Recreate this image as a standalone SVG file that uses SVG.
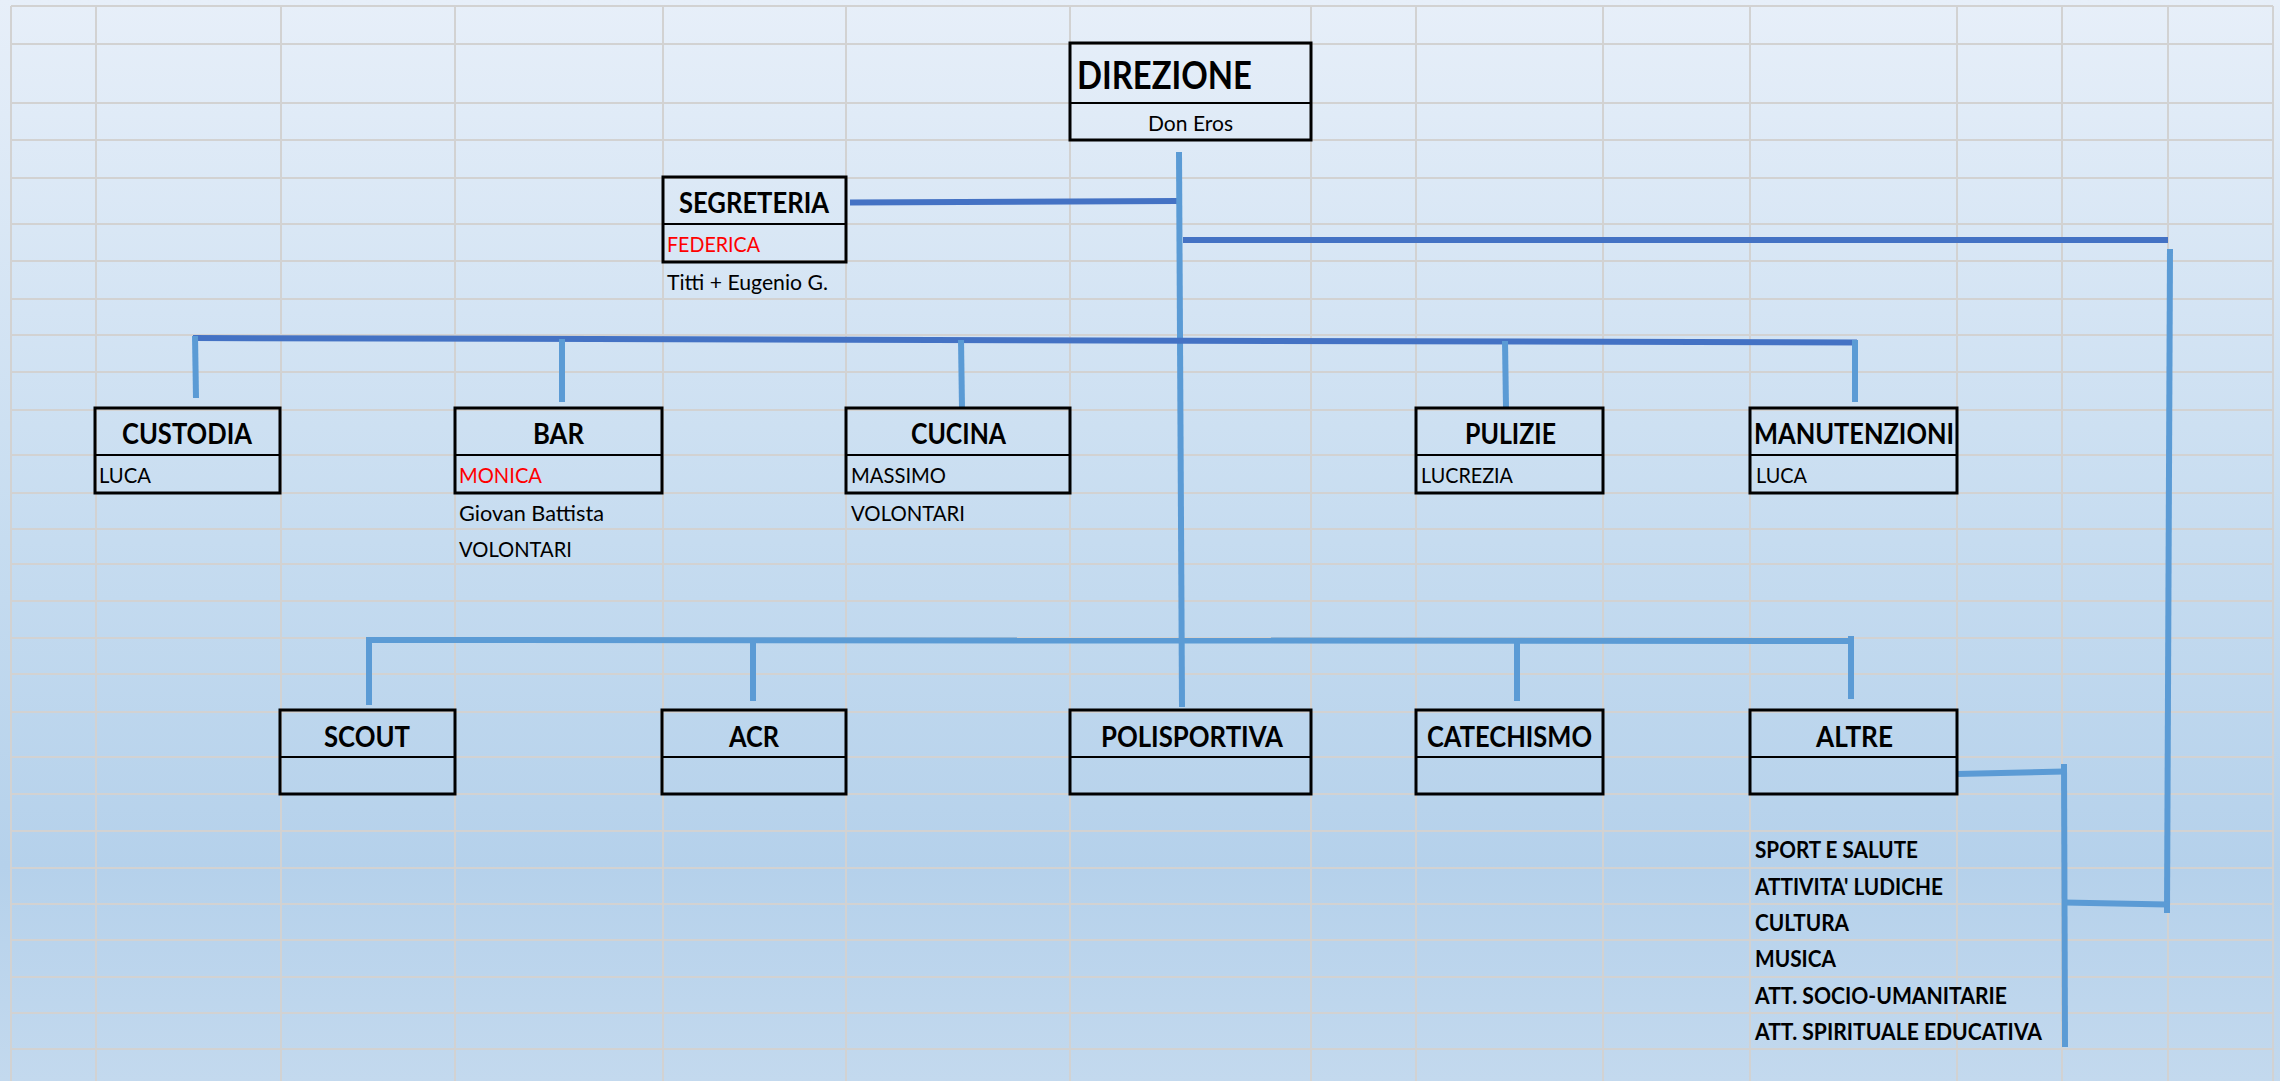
<svg xmlns="http://www.w3.org/2000/svg" width="2280" height="1081" viewBox="0 0 2280 1081">
<defs>
<linearGradient id="bg" x1="0" y1="0" x2="0" y2="1">
<stop offset="0" stop-color="#E7EFF9"/>
<stop offset="0.5" stop-color="#C6DCF0"/>
<stop offset="0.8" stop-color="#B5D1EB"/>
<stop offset="1" stop-color="#C3D9EE"/>
</linearGradient>
<style>
.grid{stroke:#D2D2D2;stroke-width:2;fill:none}
.box{fill:none;stroke:#000;stroke-width:3}
.div{stroke:#000;stroke-width:2}
.t{font-family:Lato,"Open Sans","Liberation Sans",sans-serif;fill:#000}
.h{font-weight:bold;font-size:29px}
.n{font-size:22px}
.red{fill:#FF0000}
.b{font-weight:bold;font-size:22px}
.lt{stroke:#5B9BD5;stroke-width:6;fill:none}
.dk{stroke:#4472C4;stroke-width:6;fill:none}
</style>
</defs>
<rect x="0" y="0" width="2280" height="1081" fill="url(#bg)"/>
<g id="grid" class="grid">
<path d="M11 6V1081M96 6V1081M281 6V1081M455 6V1081M663 6V1081M846 6V1081M1070 6V1081M1311 6V1081M1416 6V1081M1603 6V1081M1750 6V1081M1957 6V1081M2062 6V1081M2168 6V1081M2273 6V1081"/>
<path d="M11 6H2273M11 44H2273M11 103H2273M11 140H2273M11 178H2273M11 224H2273M11 261H2273M11 299H2273M11 335H2273M11 372H2273M11 410H2273M11 455H2273M11 493H2273M11 529H2273M11 564H2273M11 601H2273M11 638H2273M11 674H2273M11 712H2273M11 757H2273M11 794H2273M11 831H2273M11 868H2273M11 904H2273M11 940H2273M11 977H2273M11 1013H2273M11 1049H2273"/>
</g>
<g id="connectors">
<line class="dk" x1="850" y1="202.5" x2="1178" y2="201" stroke-width="5.5"/>
<line class="lt" x1="1179" y1="152" x2="1182" y2="707"/>
<line class="dk" x1="1183" y1="240" x2="2168" y2="240" stroke-width="7"/>
<line class="lt" x1="2170" y1="249" x2="2167" y2="913"/>
<line class="lt" x1="2064" y1="902.5" x2="2167" y2="904.5"/>
<line class="lt" x1="2064" y1="764" x2="2065" y2="1047"/>
<line class="lt" x1="1957" y1="774" x2="2064" y2="771.5" stroke-width="7"/>
<line class="dk" x1="193" y1="338" x2="1857" y2="342.5" stroke-width="5"/>
<line class="lt" x1="195" y1="336" x2="196" y2="398"/>
<line class="lt" x1="562" y1="339" x2="562" y2="402"/>
<line class="lt" x1="961" y1="340" x2="962" y2="408"/>
<line class="lt" x1="1505" y1="341" x2="1506" y2="408"/>
<line class="lt" x1="1855" y1="340" x2="1855" y2="402"/>
<line class="lt" x1="366" y1="640" x2="1853" y2="641" stroke-width="7"/>
<line class="lt" x1="369" y1="637" x2="369" y2="705"/>
<line class="lt" x1="753" y1="640" x2="753" y2="701"/>
<line class="lt" x1="1517" y1="640" x2="1517" y2="701"/>
<line class="lt" x1="1851" y1="636" x2="1851" y2="699"/>
</g>
<g id="direzione">
<rect class="box" x="1070" y="43" width="241" height="97"/>
<line class="div" x1="1070" y1="103" x2="1311" y2="103"/>
<text class="t" x="1077" y="89" font-weight="bold" font-size="39" textLength="175" lengthAdjust="spacingAndGlyphs">DIREZIONE</text>
<text class="t n" x="1148" y="131" textLength="85" lengthAdjust="spacingAndGlyphs">Don Eros</text>
</g>
<g id="segreteria">
<rect class="box" x="663" y="177" width="183" height="85"/>
<line class="div" x1="663" y1="224" x2="846" y2="224"/>
<text class="t h" x="679" y="213" textLength="150" lengthAdjust="spacingAndGlyphs">SEGRETERIA</text>
<text class="t n red" x="667" y="252" textLength="93" lengthAdjust="spacingAndGlyphs">FEDERICA</text>
<text class="t n" x="667" y="290" textLength="161" lengthAdjust="spacingAndGlyphs">Titti + Eugenio G.</text>
</g>
<g id="custodia">
<rect class="box" x="95" y="408" width="185" height="85"/>
<line class="div" x1="95" y1="455" x2="280" y2="455"/>
<text class="t h" x="122" y="444" textLength="130" lengthAdjust="spacingAndGlyphs">CUSTODIA</text>
<text class="t n" x="99" y="483" textLength="52" lengthAdjust="spacingAndGlyphs">LUCA</text>
</g>
<g id="bar">
<rect class="box" x="455" y="408" width="207" height="85"/>
<line class="div" x1="455" y1="455" x2="662" y2="455"/>
<text class="t h" x="533" y="444" textLength="51" lengthAdjust="spacingAndGlyphs">BAR</text>
<text class="t n red" x="459" y="483" textLength="83" lengthAdjust="spacingAndGlyphs">MONICA</text>
<text class="t n" x="459" y="521" textLength="145" lengthAdjust="spacingAndGlyphs">Giovan Battista</text>
<text class="t n" x="459" y="557" textLength="113" lengthAdjust="spacingAndGlyphs">VOLONTARI</text>
</g>
<g id="cucina">
<rect class="box" x="846" y="408" width="224" height="85"/>
<line class="div" x1="846" y1="455" x2="1070" y2="455"/>
<text class="t h" x="911" y="444" textLength="95" lengthAdjust="spacingAndGlyphs">CUCINA</text>
<text class="t n" x="851" y="483" textLength="95" lengthAdjust="spacingAndGlyphs">MASSIMO</text>
<text class="t n" x="851" y="521" textLength="114" lengthAdjust="spacingAndGlyphs">VOLONTARI</text>
</g>
<g id="pulizie">
<rect class="box" x="1416" y="408" width="187" height="85"/>
<line class="div" x1="1416" y1="455" x2="1603" y2="455"/>
<text class="t h" x="1465" y="444" textLength="91" lengthAdjust="spacingAndGlyphs">PULIZIE</text>
<text class="t n" x="1421" y="483" textLength="92" lengthAdjust="spacingAndGlyphs">LUCREZIA</text>
</g>
<g id="manutenzioni">
<rect class="box" x="1750" y="408" width="207" height="85"/>
<line class="div" x1="1750" y1="455" x2="1957" y2="455"/>
<text class="t h" x="1754" y="444" textLength="200" lengthAdjust="spacingAndGlyphs">MANUTENZIONI</text>
<text class="t n" x="1756" y="483" textLength="51" lengthAdjust="spacingAndGlyphs">LUCA</text>
</g>
<g id="scout">
<rect class="box" x="280" y="710" width="175" height="84"/>
<line class="div" x1="280" y1="757" x2="455" y2="757"/>
<text class="t h" x="324" y="747" textLength="86" lengthAdjust="spacingAndGlyphs">SCOUT</text>
</g>
<g id="acr">
<rect class="box" x="662" y="710" width="184" height="84"/>
<line class="div" x1="662" y1="757" x2="846" y2="757"/>
<text class="t h" x="729" y="747" textLength="50" lengthAdjust="spacingAndGlyphs">ACR</text>
</g>
<g id="polisportiva">
<rect class="box" x="1070" y="710" width="241" height="84"/>
<line class="div" x1="1070" y1="757" x2="1311" y2="757"/>
<text class="t h" x="1101" y="747" textLength="182" lengthAdjust="spacingAndGlyphs">POLISPORTIVA</text>
</g>
<g id="catechismo">
<rect class="box" x="1416" y="710" width="187" height="84"/>
<line class="div" x1="1416" y1="757" x2="1603" y2="757"/>
<text class="t h" x="1427" y="747" textLength="165" lengthAdjust="spacingAndGlyphs">CATECHISMO</text>
</g>
<g id="altre">
<rect class="box" x="1750" y="710" width="207" height="84"/>
<line class="div" x1="1750" y1="757" x2="1957" y2="757"/>
<text class="t h" x="1816" y="747" textLength="77" lengthAdjust="spacingAndGlyphs">ALTRE</text>
</g>
<g id="altre-list">
<text class="t b" x="1755" y="858" textLength="163" lengthAdjust="spacingAndGlyphs">SPORT E SALUTE</text>
<text class="t b" x="1755" y="895" textLength="188" lengthAdjust="spacingAndGlyphs">ATTIVITA' LUDICHE</text>
<text class="t b" x="1755" y="931" textLength="94" lengthAdjust="spacingAndGlyphs">CULTURA</text>
<text class="t b" x="1755" y="967" textLength="81" lengthAdjust="spacingAndGlyphs">MUSICA</text>
<text class="t b" x="1755" y="1004" textLength="252" lengthAdjust="spacingAndGlyphs">ATT. SOCIO-UMANITARIE</text>
<text class="t b" x="1755" y="1040" textLength="287" lengthAdjust="spacingAndGlyphs">ATT. SPIRITUALE EDUCATIVA</text>
</g>
</svg>
